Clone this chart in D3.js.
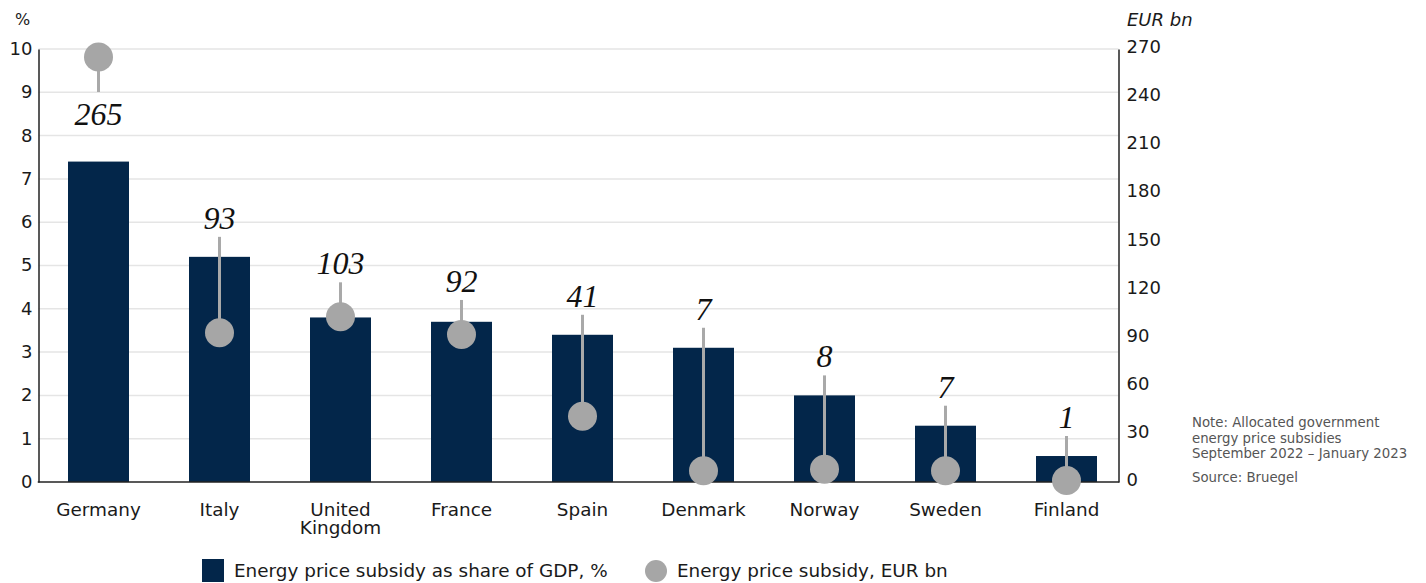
<!DOCTYPE html>
<html>
<head>
<meta charset="utf-8">
<script src="https://cdn.jsdelivr.net/npm/d3@7"></script>
<style>
  html, body { margin: 0; padding: 0; background: #fff; }
  svg { display: block; font-family: "DejaVu Sans", sans-serif; }
</style>
</head>
<body>
<svg id="chart" width="1426" height="583"></svg>
<script>
// ---- data ----
const countries = ["Germany", "Italy", "United Kingdom", "France", "Spain", "Denmark", "Norway", "Sweden", "Finland"];
const shareOfGDP = [7.4, 5.2, 3.8, 3.7, 3.4, 3.1, 2.0, 1.3, 0.6];
const eurBn = [265, 93, 103, 92, 41, 7, 8, 7, 1];
const leftTicks = [0, 1, 2, 3, 4, 5, 6, 7, 8, 9, 10];
const rightTicks = [0, 30, 60, 90, 120, 150, 180, 210, 240, 270];
const legendLabels = ["Energy price subsidy as share of GDP, %", "Energy price subsidy, EUR bn"];
const noteLines = ["Note: Allocated government", "energy price subsidies", "September 2022 \u2013 January 2023"];
const sourceLine = "Source: Bruegel";

// ---- layout ----
const plotLeft = 38.5, plotRight = 1118.5, plotTop = 49, plotBottom = 482;
const barColor = "#03264a", dotColor = "#a6a6a6", stemColor = "#a9a9a9";
const gridColor = "#e5e5e5", axisColor = "#222", textColor = "#1a1a1a";
const dotR = 14.5;
const sans = "'DejaVu Sans', sans-serif";
const serif = "'Liberation Serif', 'Times New Roman', serif";

const svg = d3.select("#chart");

const x = d3.scaleBand().domain(countries).range([38, 1127]).paddingInner(0.496).paddingOuter(0.248);
const yL = d3.scaleLinear().domain([0, 10]).range([plotBottom, plotTop]);
const yR = d3.scaleLinear().domain([0, 270]).range([plotBottom, plotTop]);

// gridlines
svg.append("g").selectAll("line").data(leftTicks.filter(d => d > 0)).join("line")
  .attr("x1", plotLeft).attr("x2", plotRight)
  .attr("y1", d => yL(d)).attr("y2", d => yL(d))
  .attr("stroke", gridColor).attr("stroke-width", 1.5);

// left axis
const gL = svg.append("g").attr("transform", `translate(${plotLeft},0)`)
  .call(d3.axisLeft(yL).tickValues(leftTicks).tickSize(0).tickPadding(6).tickFormat(d3.format("d")));
gL.select(".domain").attr("stroke", axisColor).attr("stroke-width", 1.5);
gL.selectAll("text").style("font-family", sans).style("font-size", "18px").attr("fill", textColor).attr("dy", "0.3em");

// right axis
const gR = svg.append("g").attr("transform", `translate(${plotRight},0)`)
  .call(d3.axisRight(yR).tickValues(rightTicks).tickSize(0).tickPadding(8).tickFormat(d3.format("d")));
gR.select(".domain").attr("stroke", axisColor).attr("stroke-width", 1.5);
gR.selectAll("text").style("font-family", sans).style("font-size", "18px").attr("fill", textColor).attr("dy", "0.2em");

// bars
svg.append("g").selectAll("rect").data(countries).join("rect")
  .attr("x", d => x(d)).attr("width", x.bandwidth())
  .attr("y", (d, i) => yL(shareOfGDP[i]))
  .attr("height", (d, i) => yL(0) - yL(shareOfGDP[i]))
  .attr("fill", barColor);

// bottom axis line
svg.append("line").attr("x1", plotLeft - 0.75).attr("x2", plotRight + 0.75)
  .attr("y1", plotBottom).attr("y2", plotBottom)
  .attr("stroke", axisColor).attr("stroke-width", 1.5);

// category labels
const catG = svg.append("g");
countries.forEach(c => {
  const parts = c === "United Kingdom" ? ["United", "Kingdom"] : [c];
  const cx = x(c) + x.bandwidth() / 2;
  parts.forEach((p, j) => catG.append("text")
    .attr("x", cx).attr("y", plotBottom + 34 + j * 18)
    .attr("text-anchor", "middle")
    .style("font-family", sans).style("font-size", "18.4px").attr("fill", textColor)
    .text(p));
});

// lollipops + labels
const lg = svg.append("g");
countries.forEach((c, i) => {
  const cx = x(c) + x.bandwidth() / 2;
  const dy = yR(eurBn[i]);
  const barTop = yL(shareOfGDP[i]);
  let baseline = Math.min(barTop, dy - dotR) - 28;
  let stemTop, stemBottom;
  if (baseline - 24 < plotTop) {
    // not enough room above: put label below the dot
    stemTop = dy; stemBottom = dy + 35;
    baseline = dy + 68;
  } else {
    stemTop = baseline + 8; stemBottom = dy;
  }
  lg.append("line").attr("x1", cx).attr("x2", cx)
    .attr("y1", stemTop).attr("y2", stemBottom)
    .attr("stroke", stemColor).attr("stroke-width", 3);
  lg.append("circle").attr("cx", cx).attr("cy", dy).attr("r", dotR).attr("fill", dotColor);
  lg.append("text").attr("x", cx).attr("y", baseline)
    .attr("text-anchor", "middle")
    .style("font-family", serif).style("font-style", "italic").style("font-size", "32px")
    .attr("fill", "#111")
    .text(eurBn[i]);
});

// axis titles
svg.append("text").attr("x", 15).attr("y", 25).style("font-size", "16px").attr("fill", textColor).text("%");
svg.append("text").attr("x", 1127).attr("y", 26).style("font-size", "18px").style("font-style", "italic").attr("fill", textColor).text("EUR bn");

// note
const noteG = svg.append("g").style("font-size", "13.3px").attr("fill", "#555");
noteLines.forEach((l, i) => noteG.append("text").attr("x", 1192).attr("y", 427 + i * 15.7).text(l));
noteG.append("text").attr("x", 1192).attr("y", 482).text(sourceLine);

// legend
const leg = svg.append("g").style("font-size", "18.4px").attr("fill", textColor);
leg.append("rect").attr("x", 202).attr("y", 559).attr("width", 22).attr("height", 23).attr("fill", barColor);
leg.append("text").attr("x", 234).attr("y", 577).text(legendLabels[0]);
leg.append("circle").attr("cx", 656).attr("cy", 571).attr("r", 11).attr("fill", dotColor);
leg.append("text").attr("x", 677).attr("y", 577).text(legendLabels[1]);
</script>
</body>
</html>
